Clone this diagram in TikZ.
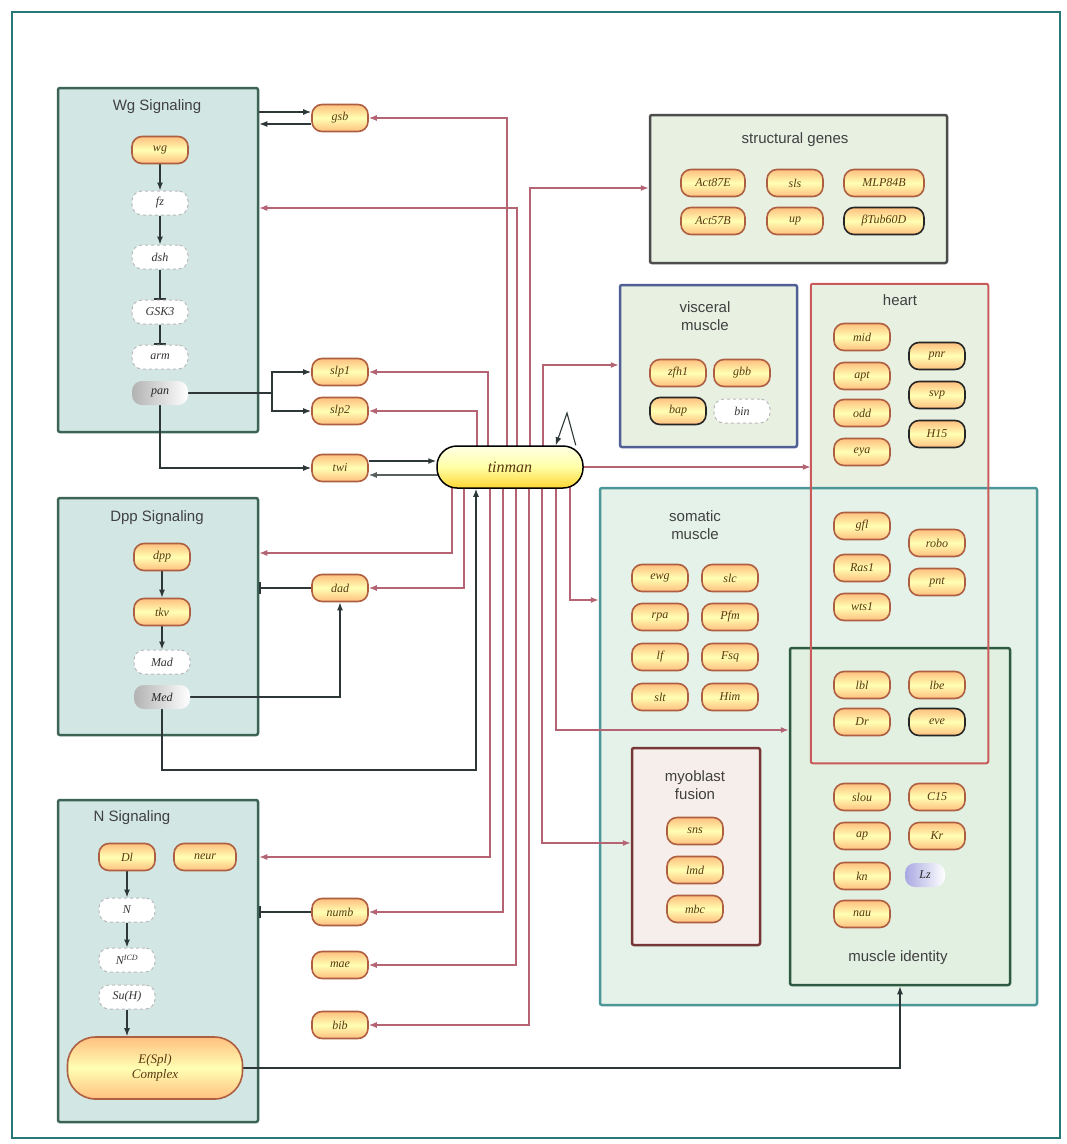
\documentclass[tikz,border=0pt]{standalone}
\usepackage{fontspec}
\setmainfont{Liberation Serif}
\setsansfont{Liberation Sans}
\usepackage{tikz}
\usetikzlibrary{arrows.meta, fit}

\definecolor{frameteal}{RGB}{40,120,120}
\definecolor{sigfill}{RGB}{210,230,228}
\definecolor{sigline}{RGB}{60,100,85}
\definecolor{genered}{RGB}{175,95,65}
\definecolor{genetxt}{RGB}{90,55,15}
\definecolor{tinline}{RGB}{180,100,115}
\definecolor{darkline}{RGB}{45,55,55}
\definecolor{palegreen}{RGB}{232,240,226}
\definecolor{somfill}{RGB}{228,242,234}
\definecolor{somline}{RGB}{75,150,150}
\definecolor{visline}{RGB}{80,95,150}
\definecolor{heartline}{RGB}{200,90,90}
\definecolor{fusline}{RGB}{120,55,55}
\definecolor{fusfill}{RGB}{246,238,234}
\definecolor{idline}{RGB}{45,90,65}
\definecolor{idfill}{RGB}{226,240,226}

\pgfdeclarelayer{boxes}
\pgfdeclarelayer{wires}
\pgfsetlayers{boxes,wires,main}

\tikzset{
  gene/.style={draw=genered, line width=1.6pt, rounded corners=10pt,
    top color=orange!50, bottom color=orange!50, middle color=yellow!30,
    minimum width=56pt, minimum height=27pt, inner sep=2pt,
    font=\itshape\fontsize{12}{13}\selectfont, text=genetxt},
  blackgene/.style={gene, draw=black!85},
  ghost/.style={draw=gray!55, dashed, line width=1pt, fill=white, rounded corners=10pt,
    minimum width=56pt, minimum height=24pt, inner sep=2pt,
    font=\itshape\fontsize{12}{13}\selectfont, text=gray!40!black},
  greygene/.style={rounded corners=10pt, left color=gray!60, right color=white,
    minimum width=56pt, minimum height=24pt, inner sep=2pt,
    font=\itshape\fontsize{12}{13}\selectfont, text=gray!30!black},
  grp/.style={line width=2.5pt, inner sep=0pt, rounded corners=2pt},
  boxtitle/.style={font=\sffamily\fontsize{15}{18}\selectfont, text=black!75, align=center},
  sig/.style={-{Latex[length=8pt,width=6pt]}, line width=1.4pt, draw=darkline},
  blk/.style={-{Bar[width=12pt,line width=1.4pt]}, line width=1.4pt, draw=darkline},
  tin/.style={-{Latex[length=8pt,width=6pt]}, line width=1.2pt, draw=tinline},
}

\begin{document}
\begin{tikzpicture}[x=1pt, y=-1pt]
\useasboundingbox (0,0) rectangle (1067,1144);

\begin{pgfonlayer}{boxes}
  \fill[white] (0,0) rectangle (1067,1144);
  % outer frame
  \draw[frameteal, line width=2pt] (12,12) rectangle (1060,1138);
  % signaling pathways
  \node[grp, draw=sigline, fill=sigfill, fit={(58,88) (258,432)}] (wgbox) {};
  \node[grp, draw=sigline, fill=sigfill, fit={(58,498) (258,735)}] (dppbox) {};
  \node[grp, draw=sigline, fill=sigfill, fit={(58,800) (258,1122)}] (nbox) {};
  % tissue groups
  \node[grp, draw=gray!60!black, fill=palegreen, fit={(650,115) (947,263)}] (strbox) {};
  \node[grp, draw=visline, fill=palegreen, fit={(620,285) (797,447)}] (visbox) {};
  \node[grp, draw=none, fill=palegreen, fit={(812,285) (987,762)}] (heartbox) {};
  \node[grp, draw=somline, fill=somfill, fit={(600,488) (1037,1005)}] (sombox) {};
  \node[grp, draw=fusline, fill=fusfill, fit={(632,748) (760,945)}] (fusbox) {};
  \node[grp, draw=idline, fill=idfill, fit={(790,648) (1010,985)}] (idbox) {};
  \draw[grp, draw=heartline, line width=2pt] (heartbox.north west) rectangle (heartbox.south east);
\end{pgfonlayer}

% box titles
\node[boxtitle] (wgt) at (157,107) {Wg Signaling};
\node[boxtitle] (dppt) at (157,518) {Dpp Signaling};
\node[boxtitle] (nt) at (132,818) {N Signaling};
\node[boxtitle] (strt) at (795,140) {structural genes};
\node[boxtitle] (vist) at (705,316) {visceral\\muscle};
\node[boxtitle] (heartt) at (900,300) {heart};
\node[boxtitle] (somt) at (695,525) {somatic\\muscle};
\node[boxtitle] (fust) at (695,785) {myoblast\\fusion};
\node[boxtitle] (idt) at (898,958) {muscle identity};

% Wg pathway
\node[gene] (wg) at (160,150) {wg};
\foreach \nm/\lab/\y in {fz/fz/203, dsh/dsh/257, gsk/GSK3/312, arm/arm/357}
  \node[ghost] (\nm) at (160,\y) {\lab};
\node[greygene] (pan) at (160,393) {pan};

% Dpp pathway
\node[gene] (dpp) at (162,557) {dpp};
\node[gene] (tkv) at (162,612) {tkv};
\node[ghost] (mad) at (162,662) {Mad};
\node[greygene] (med) at (162,697) {Med};

% N pathway
\node[gene] (dl) at (127,857) {Dl};
\node[gene, minimum width=62pt] (neur) at (205,857) {neur};
\node[ghost] (notch) at (127,910) {N};
\node[ghost] (nicd) at (127,960) {N\textsuperscript{ICD}};
\node[ghost] (suh) at (127,997) {Su(H)};
\node[gene, minimum width=175pt, minimum height=62pt, rounded corners=28pt,
  align=center, font=\itshape\fontsize{13}{15}\selectfont] (espl) at (155,1068) {E(Spl)\\Complex};

% targets next to the pathways
\foreach \nm/\lab/\y in {gsb/gsb/118, slpa/slp1/372, slpb/slp2/411, twi/twi/468,
    dad/dad/588, numb/numb/912, mae/mae/965, bib/bib/1025}
  \node[gene] (\nm) at (340,\y) {\lab};

% tinman
\node[draw=black, line width=1.5pt, rounded corners=20pt, top color=yellow!10,
  bottom color=yellow!60!orange!80, middle color=yellow!35, minimum width=146pt, minimum height=42pt,
  font=\itshape\fontsize{16}{18}\selectfont, text=genetxt] (tinman) at (510,467) {tinman};

% structural genes
\node[gene, minimum width=64pt] (acta) at (713,183) {Act87E};
\node[gene] (sls) at (795,183) {sls};
\node[gene, minimum width=80pt] (mlp) at (884,183) {MLP84B};
\node[gene, minimum width=64pt] (actb) at (713,221) {Act57B};
\node[gene] (up) at (795,221) {up};
\node[blackgene, minimum width=80pt] (btub) at (884,221) {βTub60D};

% visceral muscle
\node[gene] (zfh) at (678,373) {zfh1};
\node[gene] (gbb) at (742,373) {gbb};
\node[blackgene] (bap) at (678,411) {bap};
\node[ghost] (bin) at (742,411) {bin};

% heart
\foreach \nm/\lab/\y in {mid/mid/337, apt/apt/376, odd/odd/413, eya/eya/452}
  \node[gene] (\nm) at (862,\y) {\lab};
\foreach \nm/\lab/\y in {pnr/pnr/356, svp/svp/395, hf/H15/434}
  \node[blackgene] (\nm) at (937,\y) {\lab};
\foreach \nm/\lab/\y in {gfl/gfl/526, ras/Ras1/568, wts/wts1/607}
  \node[gene] (\nm) at (862,\y) {\lab};
\node[gene] (robo) at (937,543) {robo};
\node[gene] (pnt) at (937,582) {pnt};
\node[gene] (lbl) at (862,685) {lbl};
\node[gene] (lbe) at (937,685) {lbe};
\node[gene] (dr) at (862,722) {Dr};
\node[blackgene] (eve) at (937,722) {eve};

% somatic muscle
\foreach \nm/\lab/\y in {ewg/ewg/578, rpa/rpa/617, lf/lf/657, slt/slt/697}
  \node[gene] (\nm) at (660,\y) {\lab};
\foreach \nm/\lab/\y in {slc/slc/578, pfm/Pfm/617, fsq/Fsq/657, him/Him/697}
  \node[gene] (\nm) at (730,\y) {\lab};

% myoblast fusion
\node[gene] (sns) at (695,831) {sns};
\node[gene] (lmd) at (695,870) {lmd};
\node[gene] (mbc) at (695,909) {mbc};

% muscle identity
\foreach \nm/\lab/\y in {slou/slou/797, ap/ap/836, kn/kn/876, nau/nau/914}
  \node[gene] (\nm) at (862,\y) {\lab};
\node[gene] (cft) at (937,797) {C15};
\node[gene] (kr) at (937,836) {Kr};
\node[greygene, left color=gray!50!blue!45, minimum width=40pt] (lz) at (925,875) {Lz};

\begin{pgfonlayer}{wires}
  % inside the pathways
  \draw[sig] (wg) -- (fz);
  \draw[sig] (fz) -- (dsh);
  \draw[blk] (dsh) -- (gsk);
  \draw[blk] (gsk) -- (arm);
  \draw[sig] (dpp) -- (tkv);
  \draw[sig] (tkv) -- (mad);
  \draw[sig] (dl) -- (notch);
  \draw[sig] (notch) -- (nicd);
  \draw[sig] (suh.south) -- (suh.south |- espl.north);

  % Wg side
  \draw[sig] (wgbox.east |- 0,112) -- (gsb.west |- 0,112);
  \draw[sig] (gsb.west |- 0,124) -- (wgbox.east |- 0,124);
  \coordinate (pansplit) at (272,393);
  \draw[sig] (pan.east) -- (pansplit) |- (slpa.west);
  \draw[sig] (pansplit) |- (slpb.west);
  \draw[sig] (pan.south) |- (twi.west);
  \draw[sig] (twi.east |- 0,461) -- (tinman.west |- 0,461);
  \draw[tin, draw=darkline!80] (tinman.center |- 0,475) -- (twi.east |- 0,475);
  \coordinate (looptop) at (567,413);
  \draw[sig, line width=1.1pt] ([xshift=-8pt]tinman.north east) -- (looptop) -- ([xshift=-28pt]tinman.north east);

  % Dpp side
  \draw[blk] (dad.west) -- (dppbox.east |- dad.west);
  \draw[sig] (med.east) -| (dad.south);
  \coordinate (medcorner) at (476,770);
  \draw[sig] (med.south) |- (medcorner) -- (medcorner |- tinman.south);

  % N side
  \draw[blk] (numb.west) -- (nbox.east |- numb.west);
  \draw[sig] (espl.east) -| (idbox.south);

  % tinman upwards
  \foreach \x/\tgt in {477/slpb, 488/slpa, 507/gsb}
    \draw[tin] (\x,0 |- tinman.center) |- (\tgt.east);
  \draw[tin] (517,0 |- tinman.center) |- (wgbox.east |- 0,208);
  \draw[tin] (530,0 |- tinman.center) |- (strbox.west |- 0,188);
  \draw[tin] (543,0 |- tinman.center) |- (visbox.west |- 0,365);
  \draw[tin] (tinman.center) -- (heartbox.west |- tinman.center);

  % tinman downwards
  \draw[tin] (452,0 |- tinman.center) |- (dppbox.east |- 0,553);
  \draw[tin] (464,0 |- tinman.center) |- (dad.east);
  \draw[tin] (490,0 |- tinman.center) |- (nbox.east |- 0,857);
  \foreach \x/\tgt in {503/numb, 516/mae, 529/bib}
    \draw[tin] (\x,0 |- tinman.center) |- (\tgt.east);
  \draw[tin] (542,0 |- tinman.center) |- (fusbox.west |- 0,843);
  \draw[tin] (556,0 |- tinman.center) |- (idbox.west |- 0,730);
  \draw[tin] (570,0 |- tinman.center) |- (sombox.west |- 0,600);
\end{pgfonlayer}
\end{tikzpicture}
\end{document}
